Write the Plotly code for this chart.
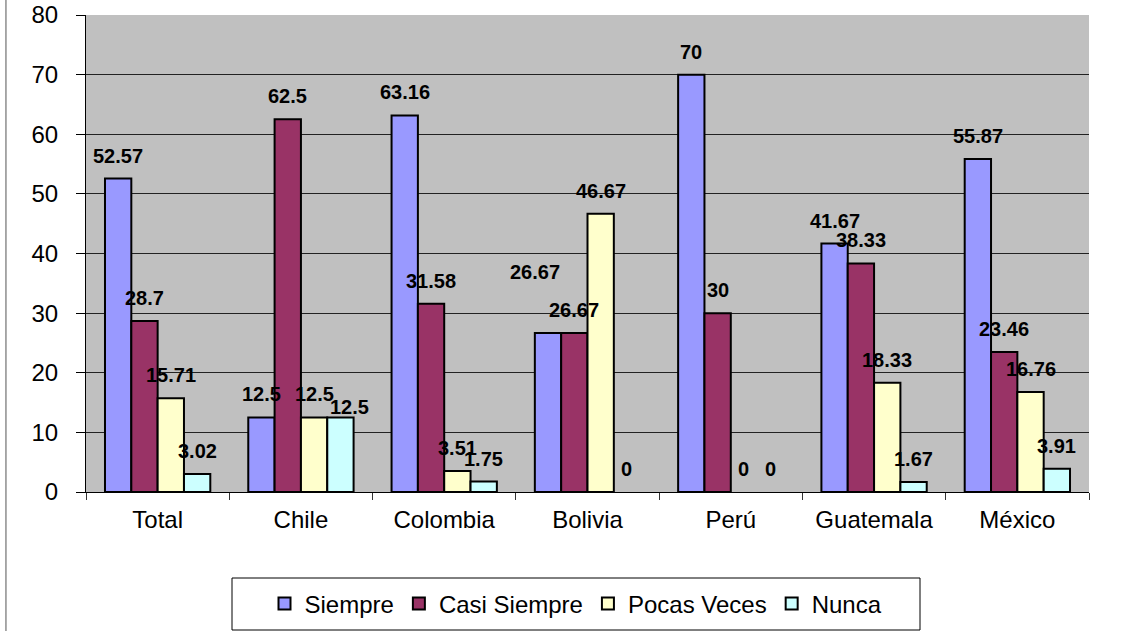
import plotly.graph_objects as go

categories = ["Total", "Chile", "Colombia", "Bolivia", "Perú", "Guatemala", "México"]
siempre = [52.57, 12.5, 63.16, 26.67, 70, 41.67, 55.87]
casi_siempre = [28.7, 62.5, 31.58, 26.67, 30, 38.33, 23.46]
pocas_veces = [15.71, 12.5, 3.51, 46.67, 0, 18.33, 16.76]
nunca = [3.02, 12.5, 1.75, 0, 0, 1.67, 3.91]
y_ticks = [0, 10, 20, 30, 40, 50, 60, 70, 80]

series_names = ["Siempre", "Casi Siempre", "Pocas Veces", "Nunca"]
series_values = [siempre, casi_siempre, pocas_veces, nunca]
series_colors = ["#9999FF", "#993366", "#FFFFCC", "#CCFFFF"]

# layout / style constants
W, H = 1125, 631
M_L, M_R, M_T, M_B = 86, 36, 15, 139
BARGAP = 0.265
LABEL_DY = 23  # label centre above bar top (px)
# individual label nudges (style): (series, category) -> (dx, dy)
label_nudges = {("Siempre", "Bolivia"): (-13, 61), ("Nunca", "Chile"): (9, 10)}

font_family = "Liberation Sans, Arial, sans-serif"

cat_px = (W - M_L - M_R) / len(categories)
bar_px = cat_px * (1 - BARGAP) / len(series_names)
plot_w = W - M_L - M_R
plot_h = H - M_T - M_B

fig = go.Figure()
annotations = []
for si, (name, vals, color) in enumerate(zip(series_names, series_values, series_colors)):
    fig.add_trace(go.Bar(
        x=categories, y=vals, name=name,
        marker=dict(color=color,
                    line=dict(color="black", width=[2 if v > 0 else 0 for v in vals])),
    ))
    for cat, v in zip(categories, vals):
        dx, dy = label_nudges.get((name, cat), (0, LABEL_DY))
        annotations.append(dict(
            x=cat, y=v, xref="x", yref="y", text=f"<b>{v:g}</b>", showarrow=False,
            xanchor="center", yanchor="middle",
            xshift=(si - (len(series_names) - 1) / 2) * bar_px + dx, yshift=dy,
            font=dict(family=font_family, size=20, color="black"),
        ))

# legend frame (px in the picture -> paper fractions)
lg_x0, lg_x1, lg_top, lg_bot = 232, 920, 578, 630

fig.update_layout(
    width=W, height=H,
    barmode="group", bargap=BARGAP, bargroupgap=0,
    plot_bgcolor="#C0C0C0", paper_bgcolor="white",
    margin=dict(l=M_L, r=M_R, t=M_T, b=M_B, autoexpand=False),
    font=dict(family=font_family, color="black"),
    showlegend=True,
    legend=dict(
        orientation="h", x=((lg_x0 + lg_x1) / 2 - M_L) / plot_w, xanchor="center",
        y=(M_T + plot_h - (lg_top + lg_bot) / 2) / plot_h, yanchor="middle",
        borderwidth=0, bgcolor="rgba(0,0,0,0)",
        font=dict(size=24, family=font_family), itemwidth=30,
        traceorder="normal",
    ),
    xaxis=dict(
        showline=True, linecolor="black", linewidth=1,
        ticks="outside", tickson="boundaries", ticklen=7, tickcolor="#333333",
        tickfont=dict(size=24, family=font_family), showgrid=False,
        automargin=False, ticklabelstandoff=6,
    ),
    yaxis=dict(
        range=[0, 80], tickvals=y_ticks, showline=True, linecolor="black", linewidth=1,
        ticks="outside", ticklen=9, tickcolor="black",
        gridcolor="#222222", gridwidth=1,
        tickfont=dict(size=24, family=font_family),
        zeroline=False, automargin=False, ticklabelstandoff=13,
    ),
    annotations=annotations,
    shapes=[
        dict(type="line", xref="paper", yref="paper", x0=-0.0798, x1=-0.0798,
             y0=-0.3, y1=1.05, line=dict(color="#555555", width=1)),
        dict(type="rect", xref="paper", yref="paper", layer="below",
             x0=(lg_x0 - M_L) / plot_w, x1=(lg_x1 - M_L) / plot_w,
             y0=(M_T + plot_h - lg_bot) / plot_h, y1=(M_T + plot_h - lg_top) / plot_h,
             line=dict(color="black", width=1), fillcolor="white"),
    ],
)

fig.write_html("out.html", config={"displayModeBar": False},
               post_script="document.body.style.margin='0';")
